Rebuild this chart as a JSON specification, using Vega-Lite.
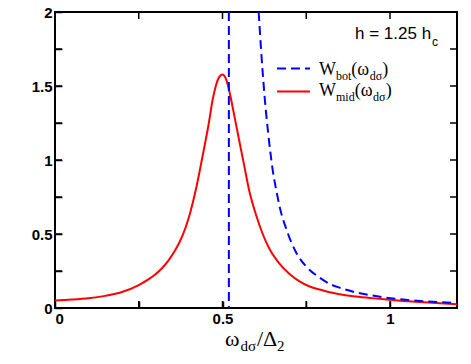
{
  "$schema": "https://vega.github.io/schema/vega-lite/v6.json",
  "width": 402,
  "height": 296,
  "autosize": "none",
  "padding": {"left": 55, "top": 12, "right": 14, "bottom": 56},
  "background": "white",
  "config": {
    "view": {"stroke": "black", "strokeWidth": 2}
  },
  "datasets": {
    "curves": [
      {"curve": "mid", "seg": "m", "i": 0, "x": 0.0, "y": 0.051},
      {"curve": "mid", "seg": "m", "i": 1, "x": 0.05, "y": 0.057},
      {"curve": "mid", "seg": "m", "i": 2, "x": 0.1, "y": 0.066},
      {"curve": "mid", "seg": "m", "i": 3, "x": 0.15, "y": 0.082},
      {"curve": "mid", "seg": "m", "i": 4, "x": 0.2, "y": 0.108},
      {"curve": "mid", "seg": "m", "i": 5, "x": 0.25, "y": 0.155},
      {"curve": "mid", "seg": "m", "i": 6, "x": 0.28, "y": 0.195},
      {"curve": "mid", "seg": "m", "i": 7, "x": 0.3, "y": 0.228},
      {"curve": "mid", "seg": "m", "i": 8, "x": 0.32, "y": 0.27},
      {"curve": "mid", "seg": "m", "i": 9, "x": 0.34, "y": 0.325},
      {"curve": "mid", "seg": "m", "i": 10, "x": 0.36, "y": 0.395},
      {"curve": "mid", "seg": "m", "i": 11, "x": 0.38, "y": 0.485},
      {"curve": "mid", "seg": "m", "i": 12, "x": 0.4, "y": 0.615},
      {"curve": "mid", "seg": "m", "i": 13, "x": 0.42, "y": 0.795},
      {"curve": "mid", "seg": "m", "i": 14, "x": 0.44, "y": 1.02},
      {"curve": "mid", "seg": "m", "i": 15, "x": 0.46, "y": 1.26},
      {"curve": "mid", "seg": "m", "i": 16, "x": 0.47, "y": 1.4},
      {"curve": "mid", "seg": "m", "i": 17, "x": 0.48, "y": 1.5},
      {"curve": "mid", "seg": "m", "i": 18, "x": 0.49, "y": 1.56},
      {"curve": "mid", "seg": "m", "i": 19, "x": 0.5, "y": 1.578},
      {"curve": "mid", "seg": "m", "i": 20, "x": 0.51, "y": 1.55},
      {"curve": "mid", "seg": "m", "i": 21, "x": 0.52, "y": 1.47},
      {"curve": "mid", "seg": "m", "i": 22, "x": 0.53, "y": 1.36},
      {"curve": "mid", "seg": "m", "i": 23, "x": 0.55, "y": 1.13},
      {"curve": "mid", "seg": "m", "i": 24, "x": 0.565, "y": 0.96},
      {"curve": "mid", "seg": "m", "i": 25, "x": 0.58, "y": 0.79},
      {"curve": "mid", "seg": "m", "i": 26, "x": 0.6, "y": 0.63},
      {"curve": "mid", "seg": "m", "i": 27, "x": 0.62, "y": 0.5},
      {"curve": "mid", "seg": "m", "i": 28, "x": 0.64, "y": 0.4},
      {"curve": "mid", "seg": "m", "i": 29, "x": 0.67, "y": 0.3},
      {"curve": "mid", "seg": "m", "i": 30, "x": 0.7, "y": 0.23},
      {"curve": "mid", "seg": "m", "i": 31, "x": 0.73, "y": 0.18},
      {"curve": "mid", "seg": "m", "i": 32, "x": 0.76, "y": 0.145},
      {"curve": "mid", "seg": "m", "i": 33, "x": 0.79, "y": 0.125},
      {"curve": "mid", "seg": "m", "i": 34, "x": 0.82, "y": 0.106},
      {"curve": "mid", "seg": "m", "i": 35, "x": 0.85, "y": 0.093},
      {"curve": "mid", "seg": "m", "i": 36, "x": 0.89, "y": 0.08},
      {"curve": "mid", "seg": "m", "i": 37, "x": 0.94, "y": 0.068},
      {"curve": "mid", "seg": "m", "i": 38, "x": 0.99, "y": 0.057},
      {"curve": "mid", "seg": "m", "i": 39, "x": 1.04, "y": 0.048},
      {"curve": "mid", "seg": "m", "i": 40, "x": 1.09, "y": 0.04},
      {"curve": "mid", "seg": "m", "i": 41, "x": 1.15, "y": 0.032},
      {"curve": "mid", "seg": "m", "i": 42, "x": 1.2, "y": 0.026},
      {"curve": "bot", "seg": "pole", "i": 0, "x": 0.519, "y": 2.0},
      {"curve": "bot", "seg": "pole", "i": 1, "x": 0.519, "y": 0.0},
      {"curve": "bot", "seg": "tail", "i": 0, "x": 0.608, "y": 2.0},
      {"curve": "bot", "seg": "tail", "i": 1, "x": 0.615, "y": 1.75},
      {"curve": "bot", "seg": "tail", "i": 2, "x": 0.626, "y": 1.42},
      {"curve": "bot", "seg": "tail", "i": 3, "x": 0.636, "y": 1.19},
      {"curve": "bot", "seg": "tail", "i": 4, "x": 0.65, "y": 0.93},
      {"curve": "bot", "seg": "tail", "i": 5, "x": 0.661, "y": 0.79},
      {"curve": "bot", "seg": "tail", "i": 6, "x": 0.671, "y": 0.68},
      {"curve": "bot", "seg": "tail", "i": 7, "x": 0.691, "y": 0.53},
      {"curve": "bot", "seg": "tail", "i": 8, "x": 0.721, "y": 0.37},
      {"curve": "bot", "seg": "tail", "i": 9, "x": 0.75, "y": 0.28},
      {"curve": "bot", "seg": "tail", "i": 10, "x": 0.79, "y": 0.205},
      {"curve": "bot", "seg": "tail", "i": 11, "x": 0.82, "y": 0.163},
      {"curve": "bot", "seg": "tail", "i": 12, "x": 0.85, "y": 0.137},
      {"curve": "bot", "seg": "tail", "i": 13, "x": 0.89, "y": 0.11},
      {"curve": "bot", "seg": "tail", "i": 14, "x": 0.94, "y": 0.087},
      {"curve": "bot", "seg": "tail", "i": 15, "x": 0.99, "y": 0.069},
      {"curve": "bot", "seg": "tail", "i": 16, "x": 1.04, "y": 0.057},
      {"curve": "bot", "seg": "tail", "i": 17, "x": 1.09, "y": 0.047},
      {"curve": "bot", "seg": "tail", "i": 18, "x": 1.15, "y": 0.039},
      {"curve": "bot", "seg": "tail", "i": 19, "x": 1.2, "y": 0.034}
    ],
    "xTicks": [{"v": 0.25}, {"v": 0.5}, {"v": 0.75}, {"v": 1.0}],
    "yTicks": [{"v": 0.25}, {"v": 0.5}, {"v": 0.75}, {"v": 1.0}, {"v": 1.25}, {"v": 1.5}, {"v": 1.75}],
    "legendLines": [
      {"curve": "bot", "x": 0.6627, "x2": 0.7612, "y": 1.6182},
      {"curve": "mid", "x": 0.6627, "x2": 0.7612, "y": 1.4628}
    ],
    "serifMain": [
      {"t": "W", "x": 0.7881, "y": 1.5777},
      {"t": "(ω", "x": 0.8845, "y": 1.5777},
      {"t": ")", "x": 0.977, "y": 1.5777},
      {"t": "W", "x": 0.7881, "y": 1.4291},
      {"t": "(ω", "x": 0.8946, "y": 1.4291},
      {"t": ")", "x": 0.9872, "y": 1.4291}
    ],
    "serifSub": [
      {"t": "bot", "x": 0.8388, "y": 1.5439},
      {"t": "dσ", "x": 0.9394, "y": 1.5439},
      {"t": "mid", "x": 0.8388, "y": 1.3953},
      {"t": "dσ", "x": 0.9496, "y": 1.3953}
    ],
    "titleMain": [
      {"t": "ω", "x": 0.5075, "y": -0.2601},
      {"t": "/Δ", "x": 0.603, "y": -0.2601}
    ],
    "titleSub": [
      {"t": "dσ", "x": 0.5537, "y": -0.2939},
      {"t": "2", "x": 0.6627, "y": -0.2939}
    ],
    "annMain": [{"t": "h = 1.25 h", "x": 0.8955, "y": 1.8142}],
    "annSub": [{"t": "c", "x": 1.1254, "y": 1.7736}]
  },
  "resolve": {"axis": {"x": "independent", "y": "independent"}},
  "layer": [
    {
      "data": {"name": "curves"},
      "transform": [{"filter": "datum.curve === 'mid'"}],
      "mark": {"type": "line", "color": "#ff0000", "strokeWidth": 2, "interpolate": "monotone"},
      "encoding": {
        "x": {"field": "x", "type": "quantitative", "scale": {"domain": [0, 1.2], "nice": false},
              "axis": {"orient": "bottom", "values": [0, 0.25, 0.5, 0.75, 1], "format": ".2~f",
                       "labelExpr": "datum.value % 0.5 === 0 ? datum.label : ''",
                       "ticks": true, "tickSize": 7, "offset": -7, "tickColor": "#000000", "tickWidth": 1.5,
                       "domain": false, "grid": false, "labelPadding": 3,
                       "labelFont": "Liberation Sans", "labelFontWeight": "bold", "labelFontSize": 15, "labelColor": "black"},
              "title": null},
        "y": {"field": "y", "type": "quantitative", "scale": {"domain": [0, 2], "nice": false},
              "axis": {"orient": "left", "values": [0, 0.25, 0.5, 0.75, 1, 1.25, 1.5, 1.75, 2], "format": ".2~f",
                       "labelExpr": "datum.value % 0.5 === 0 ? datum.label : ''",
                       "ticks": true, "tickSize": 7, "offset": -7, "tickColor": "#000000", "tickWidth": 1.5,
                       "domain": false, "grid": false, "labelPadding": 3,
                       "labelFont": "Liberation Sans", "labelFontWeight": "bold", "labelFontSize": 15, "labelColor": "black"},
              "title": null},
        "order": {"field": "i", "type": "quantitative"}
      }
    },
    {
      "data": {"name": "curves"},
      "transform": [{"filter": "datum.curve === 'bot'"}],
      "mark": {"type": "line", "color": "#0000ff", "strokeWidth": 2, "strokeDash": [9, 5], "interpolate": "monotone"},
      "encoding": {
        "x": {"field": "x", "type": "quantitative", "scale": {"domain": [0, 1.2], "nice": false}, "axis": null},
        "y": {"field": "y", "type": "quantitative", "scale": {"domain": [0, 2], "nice": false}, "axis": null},
        "detail": {"field": "seg"},
        "order": {"field": "i", "type": "quantitative"}
      }
    },
    {
      "data": {"name": "xTicks"},
      "mark": {"type": "rule", "color": "black", "strokeWidth": 1.5},
      "encoding": {
        "x": {"field": "v", "type": "quantitative", "scale": {"domain": [0, 1.2], "nice": false}, "axis": null},
        "y": {"datum": 0, "type": "quantitative", "scale": {"domain": [0, 2], "nice": false}, "axis": null},
        "y2": {"datum": 0.0473}
      }
    },
    {
      "data": {"name": "xTicks"},
      "mark": {"type": "rule", "color": "black", "strokeWidth": 1.5},
      "encoding": {
        "x": {"field": "v", "type": "quantitative", "scale": {"domain": [0, 1.2], "nice": false}, "axis": null},
        "y": {"datum": 2, "type": "quantitative", "scale": {"domain": [0, 2], "nice": false}, "axis": null},
        "y2": {"datum": 1.9527}
      }
    },
    {
      "data": {"name": "yTicks"},
      "mark": {"type": "rule", "color": "black", "strokeWidth": 1.5},
      "encoding": {
        "y": {"field": "v", "type": "quantitative", "scale": {"domain": [0, 2], "nice": false}, "axis": null},
        "x": {"datum": 0, "type": "quantitative", "scale": {"domain": [0, 1.2], "nice": false}, "axis": null},
        "x2": {"datum": 0.0209}
      }
    },
    {
      "data": {"name": "yTicks"},
      "mark": {"type": "rule", "color": "black", "strokeWidth": 1.5},
      "encoding": {
        "y": {"field": "v", "type": "quantitative", "scale": {"domain": [0, 2], "nice": false}, "axis": null},
        "x": {"datum": 1.2, "type": "quantitative", "scale": {"domain": [0, 1.2], "nice": false}, "axis": null},
        "x2": {"datum": 1.1791}
      }
    },
    {
      "data": {"name": "legendLines"},
      "transform": [{"filter": "datum.curve === 'bot'"}],
      "mark": {"type": "rule", "color": "#0000ff", "strokeWidth": 2, "strokeDash": [9, 5]},
      "encoding": {
        "x": {"field": "x", "type": "quantitative", "scale": {"domain": [0, 1.2], "nice": false}, "axis": null},
        "x2": {"field": "x2"},
        "y": {"field": "y", "type": "quantitative", "scale": {"domain": [0, 2], "nice": false}, "axis": null}
      }
    },
    {
      "data": {"name": "legendLines"},
      "transform": [{"filter": "datum.curve === 'mid'"}],
      "mark": {"type": "rule", "color": "#ff0000", "strokeWidth": 2},
      "encoding": {
        "x": {"field": "x", "type": "quantitative", "scale": {"domain": [0, 1.2], "nice": false}, "axis": null},
        "x2": {"field": "x2"},
        "y": {"field": "y", "type": "quantitative", "scale": {"domain": [0, 2], "nice": false}, "axis": null}
      }
    },
    {
      "data": {"name": "serifMain"},
      "mark": {"type": "text", "font": "Liberation Serif", "fontSize": 18, "align": "left", "baseline": "alphabetic", "color": "black"},
      "encoding": {
        "x": {"field": "x", "type": "quantitative", "scale": {"domain": [0, 1.2], "nice": false}, "axis": null},
        "y": {"field": "y", "type": "quantitative", "scale": {"domain": [0, 2], "nice": false}, "axis": null},
        "text": {"field": "t"}
      }
    },
    {
      "data": {"name": "serifSub"},
      "mark": {"type": "text", "font": "Liberation Serif", "fontSize": 12, "align": "left", "baseline": "alphabetic", "color": "black"},
      "encoding": {
        "x": {"field": "x", "type": "quantitative", "scale": {"domain": [0, 1.2], "nice": false}, "axis": null},
        "y": {"field": "y", "type": "quantitative", "scale": {"domain": [0, 2], "nice": false}, "axis": null},
        "text": {"field": "t"}
      }
    },
    {
      "data": {"name": "titleMain"},
      "mark": {"type": "text", "font": "Liberation Serif", "fontSize": 22, "align": "left", "baseline": "alphabetic", "color": "black"},
      "encoding": {
        "x": {"field": "x", "type": "quantitative", "scale": {"domain": [0, 1.2], "nice": false}, "axis": null},
        "y": {"field": "y", "type": "quantitative", "scale": {"domain": [0, 2], "nice": false}, "axis": null},
        "text": {"field": "t"}
      }
    },
    {
      "data": {"name": "titleSub"},
      "mark": {"type": "text", "font": "Liberation Serif", "fontSize": 15, "align": "left", "baseline": "alphabetic", "color": "black"},
      "encoding": {
        "x": {"field": "x", "type": "quantitative", "scale": {"domain": [0, 1.2], "nice": false}, "axis": null},
        "y": {"field": "y", "type": "quantitative", "scale": {"domain": [0, 2], "nice": false}, "axis": null},
        "text": {"field": "t"}
      }
    },
    {
      "data": {"name": "annMain"},
      "mark": {"type": "text", "font": "Liberation Sans", "fontSize": 17, "align": "left", "baseline": "alphabetic", "color": "black"},
      "encoding": {
        "x": {"field": "x", "type": "quantitative", "scale": {"domain": [0, 1.2], "nice": false}, "axis": null},
        "y": {"field": "y", "type": "quantitative", "scale": {"domain": [0, 2], "nice": false}, "axis": null},
        "text": {"field": "t"}
      }
    },
    {
      "data": {"name": "annSub"},
      "mark": {"type": "text", "font": "Liberation Sans", "fontSize": 12, "align": "left", "baseline": "alphabetic", "color": "black"},
      "encoding": {
        "x": {"field": "x", "type": "quantitative", "scale": {"domain": [0, 1.2], "nice": false}, "axis": null},
        "y": {"field": "y", "type": "quantitative", "scale": {"domain": [0, 2], "nice": false}, "axis": null},
        "text": {"field": "t"}
      }
    }
  ]
}
